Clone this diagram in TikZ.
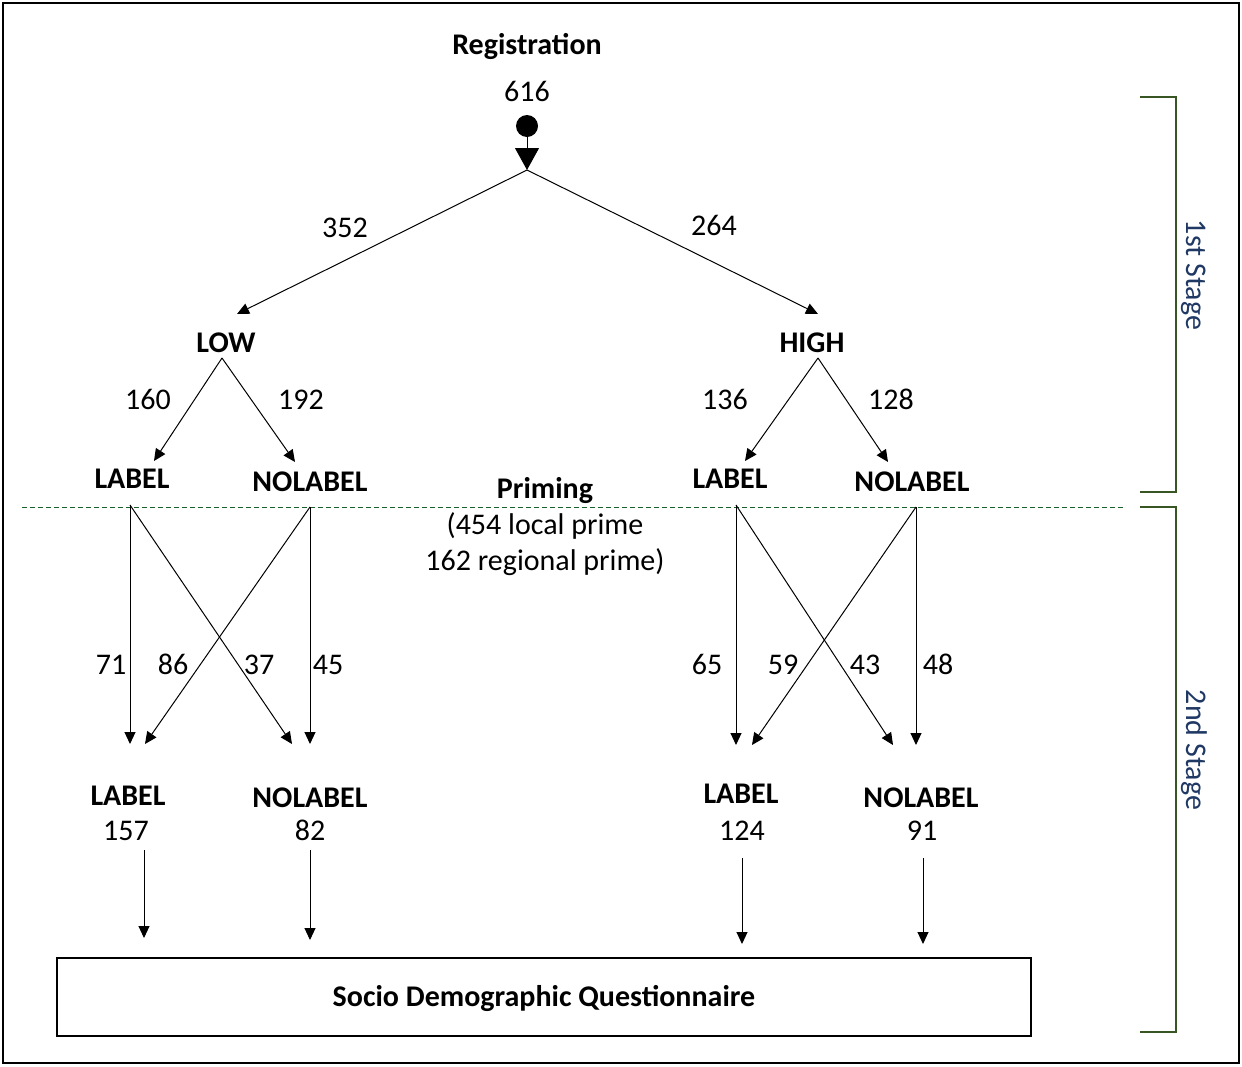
\documentclass[tikz,border=0pt]{standalone}
\usepackage{fontspec}
\setmainfont{Carlito}
\usetikzlibrary{arrows.meta}
\definecolor{brk}{RGB}{55,86,35}
\definecolor{stg}{RGB}{31,56,100}
\definecolor{dsh}{RGB}{25,95,40}
\begin{document}
\begin{tikzpicture}[x=0.5pt,y=-0.5pt,
  txt/.style={inner sep=0pt,anchor=base,font=\fontsize{15}{18}\selectfont},
  btxt/.style={txt,font=\fontsize{15}{18}\selectfont\bfseries},
  ln/.style={line width=0.5pt},
  arr/.style={ln,-{Triangle[length=6pt,width=5.5pt]}},
  bigarr/.style={ln,-{Triangle[length=11pt,width=12pt]}},
  brack/.style={draw=brk,line width=0.7pt},
  stage/.style={inner sep=0pt,rotate=-90,text=stg,font=\fontsize{15}{18}\selectfont}]
\useasboundingbox (0,0) rectangle (1242,1066);
\draw[line width=1pt] (3,3) rectangle (1239,1063);

% top
\node[btxt] (reg) at (527,54) {Registration};
\node[txt] (n616) at (527,101) {616};
\node[circle,fill,inner sep=0pt,minimum size=11pt] (dot) at (527,126) {};
\coordinate (split) at (527,170);
\draw[bigarr] (dot) -- (split);
\coordinate (lowtip) at (237,314);
\coordinate (hightip) at (818,314);
\draw[arr] (split) -- (lowtip);
\draw[arr] (split) -- (hightip);
\node[txt] (n352) at (345,237) {352};
\node[txt] (n264) at (714,235) {264};

% first level
\node[btxt] (low) at (226,352) {LOW};
\node[btxt] (high) at (812,352) {HIGH};
\coordinate (lows) at (222,358);
\coordinate (highs) at (818,358);
\coordinate (l1t) at (154,461);
\coordinate (l2t) at (295,462);
\coordinate (h1t) at (745,461);
\coordinate (h2t) at (888,462);
\draw[arr] (lows) -- (l1t);
\draw[arr] (lows) -- (l2t);
\draw[arr] (highs) -- (h1t);
\draw[arr] (highs) -- (h2t);
\node[txt] (n160) at (148,409) {160};
\node[txt] (n192) at (301,409) {192};
\node[txt] (n136) at (725,409) {136};
\node[txt] (n128) at (891,409) {128};

\node[btxt] (lab1) at (132,488) {LABEL};
\node[btxt] (nol1) at (310,491) {NOLABEL};
\node[btxt] (lab2) at (730,488) {LABEL};
\node[btxt] (nol2) at (912,491) {NOLABEL};

\node[btxt] (prim) at (545,498) {Priming};
\node[txt] (pr1) at (545,534) {(454 local prime};
\node[txt] (pr2) at (545,570) {162 regional prime)};

% dashed divider
\coordinate (dl) at (22,507);
\coordinate (dr) at (1125,507);
\draw[dsh,line width=0.5pt,dash pattern=on 2.5pt off 1.5pt] (dl) -- (dr);

% second level left
\coordinate (la) at (130,505);
\coordinate (na) at (310,507);
\coordinate (la1) at (130,744);
\coordinate (la2) at (145,744);
\coordinate (na1) at (292,744);
\coordinate (na2) at (310,744);
\draw[arr] (la) -- (la1);
\draw[arr] (la) -- (na1);
\draw[arr] (na) -- (la2);
\draw[arr] (na) -- (na2);
\node[txt] (n71) at (111,674) {71};
\node[txt] (n86) at (173,674) {86};
\node[txt] (n37) at (259,674) {37};
\node[txt] (n45) at (328,674) {45};

% second level right
\coordinate (lb) at (736,505);
\coordinate (nb) at (916,507);
\coordinate (lb1) at (736,745);
\coordinate (lb2) at (752,745);
\coordinate (nb1) at (893,745);
\coordinate (nb2) at (916,745);
\draw[arr] (lb) -- (lb1);
\draw[arr] (lb) -- (nb1);
\draw[arr] (nb) -- (lb2);
\draw[arr] (nb) -- (nb2);
\node[txt] (n65) at (707,674) {65};
\node[txt] (n59) at (783,674) {59};
\node[txt] (n43) at (865,674) {43};
\node[txt] (n48) at (938,674) {48};

% results
\node[btxt] (rl1) at (128,805) {LABEL};
\node[txt] (r157) at (126,840) {157};
\node[btxt] (rn1) at (310,807) {NOLABEL};
\node[txt] (r82) at (310,840) {82};
\node[btxt] (rl2) at (741,803) {LABEL};
\node[txt] (r124) at (742,840) {124};
\node[btxt] (rn2) at (921,807) {NOLABEL};
\node[txt] (r91) at (922,840) {91};

\coordinate (d1s) at (144,850); \coordinate (d1e) at (144,938);
\coordinate (d2s) at (310,850); \coordinate (d2e) at (310,940);
\coordinate (d3s) at (742,858); \coordinate (d3e) at (742,944);
\coordinate (d4s) at (923,858); \coordinate (d4e) at (923,944);
\draw[arr] (d1s) -- (d1e);
\draw[arr] (d2s) -- (d2e);
\draw[arr] (d3s) -- (d3e);
\draw[arr] (d4s) -- (d4e);

\draw[line width=0.75pt] (57,958) rectangle (1031,1036);
\node[inner sep=0pt,font=\fontsize{15}{18}\selectfont\bfseries] (sdq) at (544,998) {Socio Demographic Questionnaire};

% brackets
\draw[brack] (1140,97) -- (1176,97) -- (1176,492) -- (1140,492);
\draw[brack] (1140,507) -- (1176,507) -- (1176,1032) -- (1140,1032);
\node[stage] (s1) at (1194,275) {1st Stage};
\node[stage] (s2) at (1194,750) {2nd Stage};
\end{tikzpicture}
\end{document}
